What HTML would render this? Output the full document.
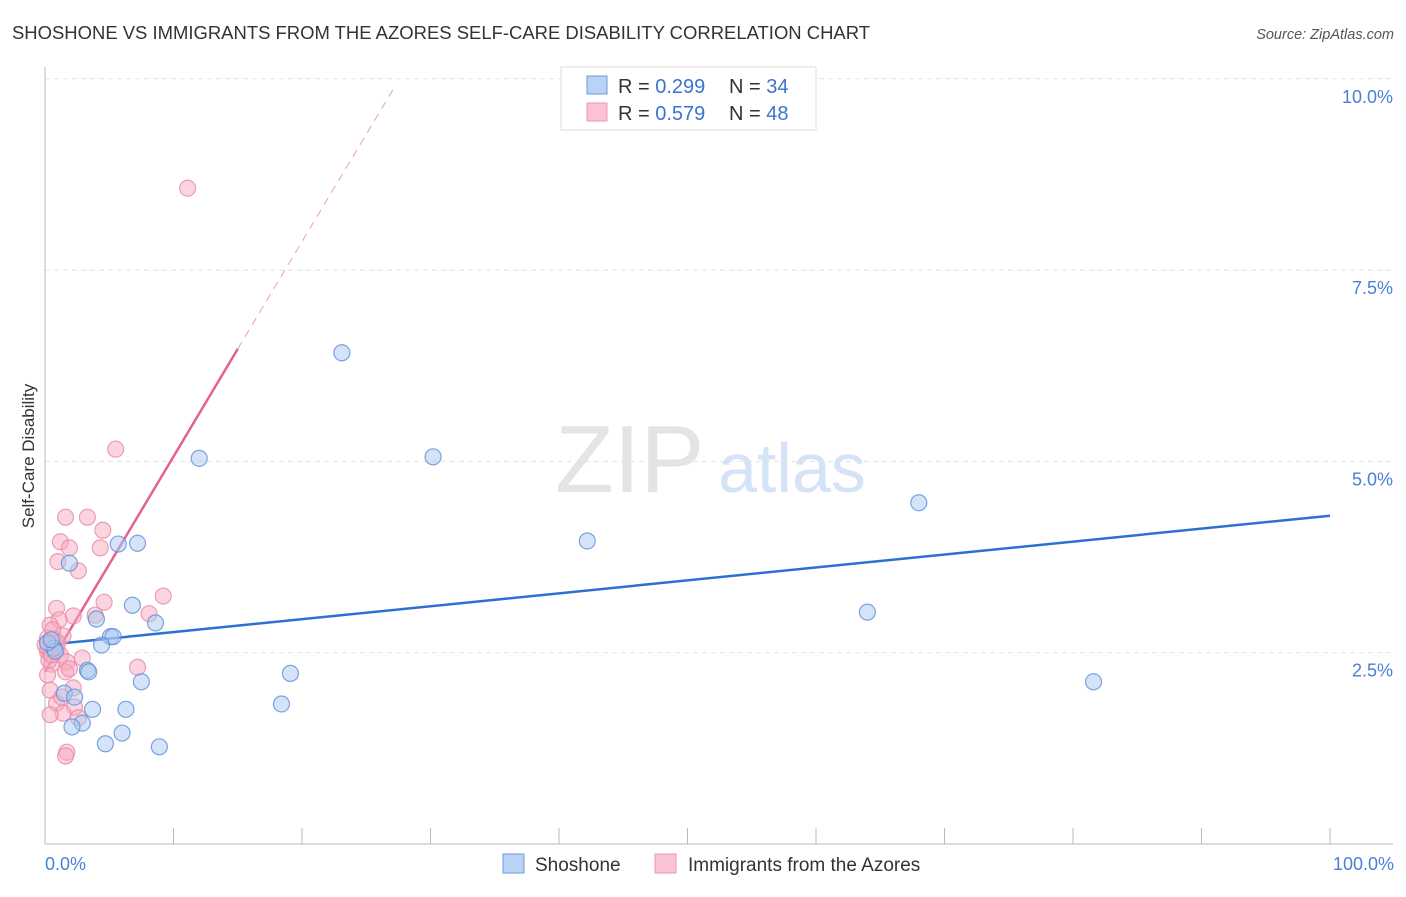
<!DOCTYPE html>
<html><head><meta charset="utf-8"><style>
body{margin:0;background:#fff;font-family:"Liberation Sans",sans-serif;}
svg text{font-family:"Liberation Sans",sans-serif;}
</style></head><body>
<svg id="chart" width="1406" height="892">
<text x="12" y="39" font-size="18" fill="#333" textLength="858" lengthAdjust="spacingAndGlyphs">SHOSHONE VS IMMIGRANTS FROM THE AZORES SELF-CARE DISABILITY CORRELATION CHART</text>
<text x="1394" y="39" font-size="14.5" fill="#555" text-anchor="end" font-style="italic">Source: ZipAtlas.com</text>
<text transform="translate(34,456) rotate(-90)" font-size="17" fill="#333" text-anchor="middle">Self-Care Disability</text>
<text x="555" y="492" font-size="96" fill="#e4e4e4" font-family="Liberation Serif">ZIP</text>
<text x="718" y="492" font-size="70" fill="#d4e3f7">atlas</text>
<g id="grid"></g><g id="axes"></g><g id="lines"></g><g id="pts"></g>
<g>
<rect x="561" y="67" width="255" height="63" fill="#fff" stroke="#ddd"/>
<rect x="587" y="76" width="20" height="18" fill="#b9d3f5" stroke="#6f9be0"/>
<text x="618" y="93" font-size="20" fill="#333">R = <tspan fill="#3a74d0">0.299</tspan></text>
<text x="729" y="93" font-size="20" fill="#333">N = <tspan fill="#3a74d0">34</tspan></text>
<rect x="587" y="103" width="20" height="18" fill="#f9c3d3" stroke="#e99ab3"/>
<text x="618" y="120" font-size="20" fill="#333">R = <tspan fill="#3a74d0">0.579</tspan></text>
<text x="729" y="120" font-size="20" fill="#333">N = <tspan fill="#3a74d0">48</tspan></text>
</g>
<rect x="503" y="854" width="21" height="19" fill="#b9d3f5" stroke="#6f9be0"/>
<text x="535" y="871" font-size="19" fill="#333">Shoshone</text>
<rect x="655" y="854" width="21" height="19" fill="#f9c3d3" stroke="#e99ab3"/>
<text x="688" y="871" font-size="19" fill="#333">Immigrants from the Azores</text>
<text x="45" y="870" font-size="18" fill="#4a80d6">0.0%</text>
<text x="1394" y="870" font-size="18" fill="#4a80d6" text-anchor="end">100.0%</text>
</svg>
<script>
const yTicks=[2.5,5,7.5,10];
const yTickLabels=["2.5%","5.0%","7.5%","10.0%"];
const xTicks=[0,10,20,30,40,50,60,70,80,90,100];
const blueX=[5.7,7.2,1.9,6.8,4.0,8.6,5.1,5.3,4.4,0.7,0.8,3.3,3.4,7.5,1.5,2.3,3.7,6.3,2.9,2.1,6.0,4.7,8.9,12.0,23.1,30.2,42.2,68.0,64.0,81.6,19.1,18.4,0.2,0.5];
const blueY=[3.92,3.93,3.67,3.12,2.94,2.89,2.71,2.71,2.60,2.56,2.52,2.27,2.25,2.12,1.97,1.92,1.76,1.76,1.58,1.53,1.45,1.31,1.27,5.04,6.42,5.06,3.96,4.46,3.03,2.12,2.23,1.83,2.63,2.67];
const pinkX=[11.1,5.5,1.6,3.3,4.5,1.2,1.9,4.3,1.0,2.6,9.2,4.6,0.9,8.1,3.9,2.2,1.1,0.4,1.4,0.2,0.5,0.9,0.2,1.2,2.9,1.7,0.5,7.2,1.6,0.2,2.2,0.4,0.9,2.3,1.4,0.4,2.6,1.7,1.6,0.7,0.2,1.0,0.3,1.3,0.6,0.0,0.5,1.9];
const pinkY=[8.57,5.16,4.27,4.27,4.10,3.95,3.87,3.87,3.69,3.57,3.24,3.16,3.08,3.01,2.99,2.98,2.93,2.86,2.72,2.69,2.60,2.54,2.51,2.47,2.43,2.38,2.35,2.31,2.25,2.21,2.04,2.01,1.84,1.79,1.71,1.69,1.65,1.20,1.15,2.68,2.56,2.63,2.40,1.92,2.80,2.60,2.47,2.29];
const blueFit=[2.60,4.29];
const pinkFit=[2.25,6.47,9.92];
const pinkFitX=[0,15,27.3];
const NS="http://www.w3.org/2000/svg";
const X=v=>45+v*12.85, Y=v=>844-v*76.52;
function mk(p,t,a){const e=document.createElementNS(NS,t);for(const k in a)e.setAttribute(k,a[k]);p.appendChild(e);return e;}
const grid=document.getElementById('grid'),axes=document.getElementById('axes'),lines=document.getElementById('lines'),pts=document.getElementById('pts');
yTicks.forEach((t,i)=>{
 const l=mk(grid,'line',{x1:45,x2:1393,y1:Y(t),y2:Y(t),stroke:'#e2e2e2','stroke-dasharray':'5,4'});
 
 
 const tx=mk(grid,'text',{x:1393,y:Y(t)+24,'font-size':18,fill:'#4a80d6','text-anchor':'end'});
 tx.textContent=yTickLabels[i];
 
 
});
const ya=mk(axes,'line',{x1:45,x2:45,y1:67,y2:844,stroke:'#bbb'});


const xa=mk(axes,'line',{x1:45,x2:1393,y1:844,y2:844,stroke:'#bbb'});


xTicks.forEach(t=>{
 const l=mk(axes,'line',{x1:X(t),x2:X(t),y1:828,y2:844,stroke:'#bbb'});
 
 
});
function dots(xs,ys,fill,stroke,name){xs.forEach((x,i)=>{
 const c=mk(pts,'circle',{cx:X(x),cy:Y(ys[i]),r:8,fill:fill,'fill-opacity':0.5,stroke:stroke,'stroke-width':1.2,'stroke-opacity':0.8});
 
 
});}
dots(pinkX,pinkY,'#f5a9c0','#e889a8','azores-point');
dots(blueX,blueY,'#a9c8f0','#5b8fd9','shoshone-point');
const bl=mk(lines,'line',{x1:X(0),y1:Y(blueFit[0]),x2:X(100),y2:Y(blueFit[1]),stroke:'#2e6fd4','stroke-width':2.5});


const pl=mk(lines,'line',{x1:X(pinkFitX[0]),y1:Y(pinkFit[0]),x2:X(pinkFitX[1]),y2:Y(pinkFit[1]),stroke:'#e5628e','stroke-width':2.5});


const pd=mk(lines,'line',{x1:X(pinkFitX[1]),y1:Y(pinkFit[1]),x2:X(pinkFitX[2]),y2:Y(pinkFit[2]),stroke:'#e8a0b8','stroke-width':1,'stroke-dasharray':'8,6'});


</script>
</body></html>
